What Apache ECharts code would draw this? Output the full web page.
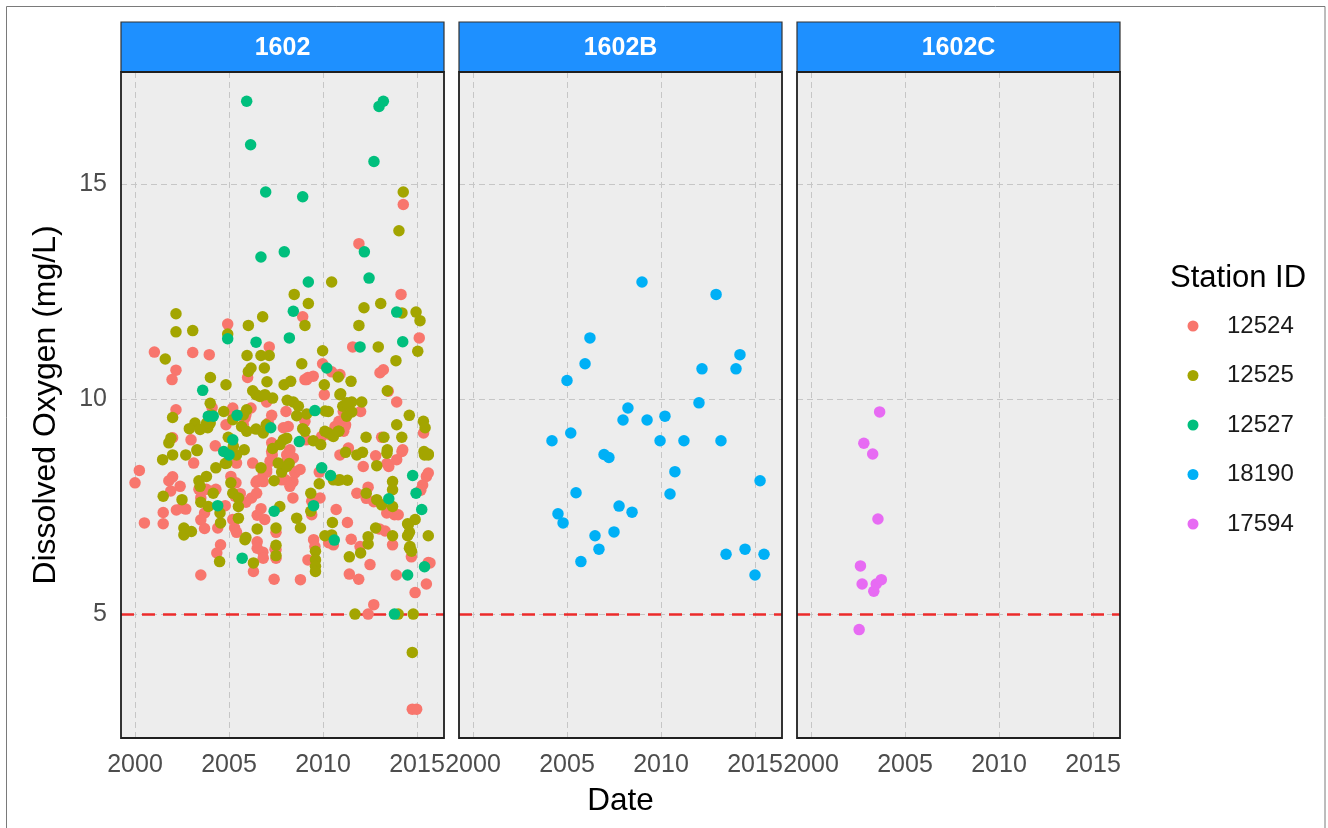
<!DOCTYPE html>
<html>
<head>
<meta charset="utf-8">
<title>Dissolved Oxygen by Station</title>
<script src="https://cdn.jsdelivr.net/npm/echarts@6/dist/echarts.min.js"></script>
<style>
  html, body { margin: 0; padding: 0; background: #ffffff; }
  #chart { width: 1328px; height: 828px; }
</style>
</head>
<body>
<div id="chart"></div>
<script>
// Facet panels and stations
const panels = ['1602', '1602B', '1602C'];
const stations = ['12524', '12525', '12527', '18190', '17594'];
const stationColors = ['#F8766D', '#A3A500', '#00BF7D', '#00B0F6', '#E76BF3'];
const stationPanel = [0, 0, 0, 1, 2];

// Axis ticks and the 5 mg/L reference level
const xTicks = [2000, 2005, 2010, 2015];
const yTicks = [5, 10, 15];
const doThreshold = 5;

// Observations: [decimal year, dissolved oxygen mg/L]
const st12524 = [
  [2014.27,14.52],[2011.91,13.61],[2014.15,12.43],
  [2001.03,11.09],[2003.07,11.08],[2003.95,11.03],[2002.18,10.67],[2001.97,10.45],[2004.93,11.74],[2007.14,11.21],
  [2005.99,10.50],[2007.00,9.93],[2007.27,9.62],[2002.18,9.75],[2004.10,9.80],[2005.20,9.79],[2005.90,9.64],
  [2006.17,9.79],[2004.84,9.40],[2002.98,9.05],[2002.00,9.10],[2004.27,8.91],[2007.27,8.98],
  [2008.92,11.91],[2011.58,11.21],[2015.12,11.42],[2009.98,10.82],[2010.46,10.63],[2009.04,10.45],[2009.20,10.50],
  [2013.21,10.68],[2013.03,10.61],[2010.07,10.10],[2013.92,9.93],[2015.35,9.21],[2008.03,9.71],[2009.04,9.48],
  [2008.15,9.36],[2008.24,8.82],[2011.40,9.71],[2012.00,9.71],[2010.85,9.48],[2011.20,9.40],[2011.10,9.25],
  [2013.12,9.11],[2014.24,8.82],
  [2003.12,8.51],[2005.40,8.51],[2006.26,8.51],[2007.00,8.30],[2007.30,8.70],[2000.23,8.34],[2000.00,8.05],
  [2002.00,8.19],[2001.80,8.10],[2001.90,7.86],[2002.40,7.97],[2003.40,7.90],[2003.80,7.90],[2004.30,7.90],
  [2003.50,7.70],[2002.50,7.47],[2002.20,7.42],[2002.70,7.44],[2001.50,7.36],[2003.70,7.35],[2003.50,7.19],
  [2000.50,7.12],[2001.50,7.10],[2003.70,6.99],[2004.80,7.52],[2004.40,7.00],[2004.55,6.61],[2003.50,5.91],
  [2005.10,8.20],[2005.60,7.80],[2006.20,7.70],[2005.90,7.60],[2005.20,7.20],[2005.30,7.00],[2005.40,6.90],
  [2006.70,7.45],[2006.90,7.20],[2006.50,7.30],[2006.50,6.68],[2006.80,6.44],[2006.30,5.99],[2007.40,5.81],
  [2007.50,6.90],[2007.50,6.50],[2006.50,8.10],
  [2010.90,8.70],[2013.40,8.50],[2014.20,8.78],[2008.20,8.78],[2008.10,8.58],[2008.50,8.31],[2008.40,8.08],
  [2007.80,8.12],[2008.00,8.12],[2009.80,8.30],[2008.40,7.70],[2009.40,7.31],[2009.50,6.73],[2009.20,6.26],
  [2008.80,5.80],[2011.80,7.81],[2012.30,7.69],[2012.70,7.61],[2012.40,7.95],[2012.80,8.68],[2013.50,8.43],
  [2013.80,7.31],[2014.00,7.31],[2015.50,8.20],[2015.30,8.00],[2015.20,7.88],[2010.70,7.43],[2011.30,7.13],
  [2010.30,6.66],[2011.50,6.74],[2012.50,6.15],[2011.40,5.93],[2011.90,5.81],[2013.00,6.98],[2013.30,6.93],
  [2013.70,6.61],[2014.70,6.33],[2013.90,5.91],[2015.60,6.20],[2015.50,5.70],[2014.90,5.50],[2012.70,5.22],
  [2012.40,5.00],
  [2004.35,6.42],[2006.82,6.30],[2011.97,6.57],[2009.57,6.57],[2005.37,8.05],[2005.32,7.74],[2006.44,8.06],
  [2006.47,7.81],[2006.50,6.53],[2007.45,6.51],[2008.24,7.97],[2007.50,6.30],[2013.39,7.35],[2013.92,8.59],
  [2015.60,8.28],[2015.69,6.19],[2010.90,10.57],[2009.48,10.53],[2009.13,10.45],[2007.89,9.33],[2009.93,9.13],
  [2010.37,9.17],[2010.64,9.36],[2011.17,9.36],[2011.08,9.71],[2012.14,8.43],[2011.35,8.86],[2009.40,7.62],
  [2009.84,7.70],[2008.51,8.28],[2008.78,8.36],[2008.42,8.63],[2008.07,8.70],[2007.27,8.78],[2007.18,8.55],
  [2007.00,8.36],[2006.82,8.24],[2006.82,8.08],[2007.09,9.44],[2005.85,9.56],[2005.76,9.40],[2005.23,9.63],
  [2013.47,10.18],[2009.10,9.05],[2010.55,6.61],
  [2014.75,2.79],[2014.98,2.79]
];
const st12525 = [
  [2014.27,14.81],[2014.04,13.91],[2010.46,12.72],[2008.47,12.43],
  [2002.18,11.98],[2002.18,11.56],[2003.07,11.59],[2001.61,10.93],[2004.01,10.50],[2004.84,10.33],[2004.93,11.51],
  [2006.03,11.71],[2006.79,11.91],[2005.96,11.01],[2006.70,11.01],[2007.14,11.01],[2006.17,10.72],[2006.88,10.72],
  [2007.02,10.40],[2006.26,10.19],[2006.44,10.10],[2007.32,10.02],[2006.98,9.40],[2002.00,9.57],[2004.00,9.90],
  [2004.72,9.71],[2005.20,9.52],[2003.19,9.44],[2002.89,9.31],[2003.87,9.33],[2004.00,9.44],[2001.91,9.09],
  [2001.80,8.98],[2003.30,8.82],[2004.96,9.11],[2005.81,8.82],[2007.32,8.85],
  [2009.22,12.22],[2009.04,11.71],[2012.18,12.12],[2013.07,12.22],[2014.20,12.00],[2014.95,12.02],[2015.16,11.82],
  [2011.91,11.71],[2012.94,11.21],[2015.04,11.11],[2009.98,11.12],[2008.87,10.82],[2010.81,10.51],[2011.49,10.41],
  [2008.28,10.41],[2007.93,10.33],[2013.88,10.89],[2010.07,10.33],[2010.94,10.12],[2013.42,10.19],[2014.59,9.62],
  [2015.34,9.48],[2008.10,9.97],[2008.42,9.93],[2008.60,9.61],[2009.13,9.65],[2008.92,9.31],[2007.89,9.05],
  [2009.48,9.03],[2009.88,8.94],[2010.11,9.72],[2011.05,9.83],[2011.53,9.93],[2012.06,9.93],[2010.10,9.25],
  [2010.85,9.25],[2012.29,9.11],[2013.24,9.11],[2014.19,9.11],[2013.42,8.82],[2015.37,8.78],[2015.60,8.72],
  [2012.10,8.76],[2011.20,8.76],
  [2001.47,8.59],[2002.00,8.70],[2002.70,8.70],[2003.30,8.80],[2005.40,8.70],[2004.80,8.50],[2006.70,8.40],
  [2007.80,8.30],[2003.40,8.10],[2003.80,8.20],[2004.30,8.40],[2001.50,7.74],[2002.50,7.66],[2003.50,7.60],
  [2003.90,7.50],[2002.60,7.00],[2002.60,6.84],[2003.00,6.92],[2004.55,7.12],[2004.50,6.22],[2005.10,8.05],
  [2005.20,7.81],[2005.50,7.50],[2005.50,7.23],[2005.90,6.78],[2006.50,6.98],[2006.30,6.19],[2007.50,7.00],
  [2007.50,6.60],[2007.70,7.50],[2007.40,8.10],
  [2011.80,8.70],[2013.40,8.74],[2015.40,8.70],[2015.60,8.70],[2008.20,8.50],[2010.80,8.11],[2011.30,8.11],
  [2009.80,8.03],[2009.35,7.81],[2009.35,7.39],[2008.60,7.23],[2008.80,7.00],[2009.60,6.46],[2009.60,6.26],
  [2009.60,6.11],[2009.60,5.99],[2012.30,7.81],[2013.70,8.08],[2013.70,7.89],[2013.70,7.50],[2014.90,7.20],
  [2014.50,7.10],[2014.60,6.90],[2015.60,6.82],[2010.50,7.13],[2010.10,6.82],[2012.00,6.42],[2011.40,6.33],
  [2012.40,6.80],[2012.80,7.00],[2012.40,6.63],[2013.70,6.82],[2014.50,6.82],[2014.60,6.53],[2011.70,5.00],
  [2014.00,5.00],[2014.80,5.00],
  [2004.16,7.81],[2004.52,7.35],[2003.46,7.97],[2005.85,6.73],[2005.50,7.70],[2012.86,7.66],[2013.12,7.54],
  [2014.54,7.08],[2014.63,6.57],[2014.71,6.46],[2013.92,9.40],[2015.43,9.33],[2010.90,10.10],[2008.69,9.83],
  [2009.04,9.25],[2010.28,9.71],[2011.26,9.91],[2010.28,9.21],[2010.55,9.13],[2010.81,9.25],[2011.26,9.60],
  [2011.53,9.70],[2012.86,8.45],[2010.90,8.12],[2010.55,8.12],[2008.07,8.43],[2007.62,8.51],[2007.71,8.94],
  [2008.07,9.09],[2006.82,9.21],[2006.03,10.64],[2006.65,10.06],[2006.91,10.10],[2005.76,9.63],[2005.94,9.75],
  [2005.94,9.25],[2005.67,9.36],[2006.44,9.30],[2005.23,8.90],[2005.05,8.74],[2004.88,8.51],[2004.08,9.63],
  [2003.81,9.44],[2003.46,9.29],[2010.46,6.84],[2007.50,6.36],
  [2014.75,4.11]
];
const st12527 = [
  [2005.94,16.92],[2006.15,15.91],[2013.21,16.92],[2012.98,16.80],[2012.71,15.52],[2006.95,14.81],[2008.92,14.70],
  [2012.20,13.42],[2006.70,13.30],[2007.94,13.42],[2009.22,12.72],[2012.45,12.81],
  [2003.60,10.20],[2004.93,11.40],[2006.44,11.32],[2007.22,9.33],[2003.90,9.60],[2005.43,9.62],[2005.20,9.05],
  [2004.72,8.78],[2004.16,9.60],
  [2008.42,12.04],[2008.21,11.42],[2013.92,12.02],[2011.97,11.21],[2014.24,11.33],[2010.20,10.72],[2009.57,9.73],
  [2008.74,9.01],
  [2005.00,8.70],[2004.40,7.52],[2005.70,6.30],[2007.40,7.39],
  [2009.93,8.40],[2010.40,8.22],[2009.50,7.52],[2013.50,7.68],[2014.77,8.22],[2014.95,7.81],[2015.25,7.43],
  [2010.60,6.72],[2014.50,5.91],[2015.40,6.10],[2013.80,5.00]
];
const st18190 = [
  [2004.20,9.03],[2004.52,7.33],[2004.79,7.12],[2005.00,10.43],[2005.20,9.21],[2005.48,7.82],[2005.74,6.22],
  [2005.96,10.82],[2006.22,11.42],[2006.49,6.82],[2006.70,6.51],[2006.97,8.71],[2007.23,8.64],[2007.50,6.91],
  [2007.77,7.51],[2007.98,9.51],[2008.24,9.79],[2008.46,7.37],[2008.99,12.72],[2009.26,9.51],[2009.95,9.03],
  [2010.21,9.60],[2010.48,7.79],[2010.74,8.31],[2011.22,9.03],[2012.02,9.91],[2012.18,10.70],[2012.93,12.43],
  [2013.19,9.03],[2013.46,6.39],[2013.99,10.70],[2014.20,11.03],[2014.47,6.51],[2015.00,5.91],[2015.27,8.10],
  [2015.48,6.39]
];
const st17594 = [
  [2003.65,9.70],[2002.81,8.97],[2003.28,8.72],[2003.56,7.21],[2002.63,6.12],[2002.72,5.70],[2003.34,5.53],
  [2003.47,5.70],[2003.74,5.80],[2002.56,4.64]
];
const stationData = [st12524, st12525, st12527, st18190, st17594];

// Layout of the three facet panels
const FONT = 'Liberation Sans, Arial, Helvetica, sans-serif';
const panelLeft = [121, 459, 797];
const panelWidth = 323;
const plotTop = 72;
const plotHeight = 666;
const stripTop = 22;
const stripHeight = 50;
const xRange = [1999.255, 2016.436];
const yRange = [2.12, 17.6];

const grids = panels.map((p, i) => ({
  left: panelLeft[i], top: plotTop, width: panelWidth, height: plotHeight,
  show: true, backgroundColor: '#EDEDED', borderWidth: 0
}));

const gridLine = { show: true, lineStyle: { color: '#C6C6C6', width: 1, type: [6, 4] } };

const xAxes = panels.map((p, i) => ({
  type: 'value', gridIndex: i, min: xRange[0], max: xRange[1],
  axisLine: { show: false },
  axisTick: { show: false, customValues: xTicks },
  axisLabel: {
    customValues: xTicks, fontSize: 25, color: '#4D4D4D', margin: 14.5, fontFamily: FONT,
    formatter: v => String(Math.round(v))
  },
  splitLine: gridLine,
  name: i === 1 ? 'Date' : '',
  nameLocation: 'middle', nameGap: 47,
  nameTextStyle: { fontSize: 31.5, color: '#000', fontFamily: FONT }
}));

const yAxes = panels.map((p, i) => ({
  type: 'value', gridIndex: i, min: yRange[0], max: yRange[1],
  axisLine: { show: false },
  axisTick: { show: false, customValues: yTicks },
  axisLabel: {
    show: i === 0, customValues: yTicks, fontSize: 25, color: '#4D4D4D', margin: 14, fontFamily: FONT
  },
  splitLine: gridLine,
  name: i === 0 ? 'Dissolved Oxygen (mg/L)' : '',
  nameLocation: 'middle', nameGap: 59,
  nameTextStyle: { fontSize: 32, color: '#000', fontFamily: FONT }
}));

const thresholdMark = {
  silent: true, z: 1,
  symbol: ['none', 'none'],
  label: { show: false },
  lineStyle: { color: '#EC2B2B', width: 2.5, type: [13, 8], opacity: 1 },
  emphasis: { disabled: true },
  data: [{ yAxis: doThreshold }]
};

const firstInPanel = {};
const series = stations.map((name, k) => {
  const pi = stationPanel[k];
  const s = {
    type: 'scatter', name: name,
    xAxisIndex: pi, yAxisIndex: pi,
    data: stationData[k],
    symbol: 'circle', symbolSize: 11.5,
    itemStyle: { color: stationColors[k], opacity: 1 },
    emphasis: { disabled: true },
    z: 2
  };
  if (!(pi in firstInPanel)) {
    firstInPanel[pi] = true;
    s.markLine = thresholdMark;
  }
  return s;
});

// Facet strips and panel frames
const graphics = [];
panels.forEach((p, i) => {
  graphics.push({
    type: 'rect', z: 50,
    shape: { x: panelLeft[i], y: stripTop, width: panelWidth, height: stripHeight },
    style: { fill: '#1E90FF', stroke: '#333333', lineWidth: 1.2 }
  });
  graphics.push({
    type: 'text', z: 51,
    x: panelLeft[i] + panelWidth / 2, y: stripTop + stripHeight / 2 + 1,
    style: {
      text: p, fill: '#ffffff', font: 'bold 25px ' + FONT,
      textAlign: 'center', textVerticalAlign: 'middle'
    }
  });
  graphics.push({
    type: 'rect', z: 50,
    shape: { x: panelLeft[i], y: plotTop, width: panelWidth, height: plotHeight },
    style: { fill: 'none', stroke: '#1F1F1F', lineWidth: 1.8 }
  });
});
graphics.push({
  type: 'rect', z: 60,
  shape: { x: 6.5, y: 6.5, width: 1318.5, height: 840 },
  style: { fill: 'none', stroke: '#7A7A7A', lineWidth: 1 }
});

const chart = echarts.init(document.getElementById('chart'), null, { renderer: 'canvas' });
chart.setOption({
  animation: false,
  backgroundColor: '#ffffff',
  textStyle: { fontFamily: FONT },
  title: {
    text: 'Station ID', left: 1170, top: 263, padding: 0,
    textStyle: { fontSize: 31, fontWeight: 'normal', color: '#000', fontFamily: FONT }
  },
  legend: {
    data: stations, orient: 'vertical', left: 1187.5, top: 314, padding: 0,
    icon: 'circle', itemWidth: 58, itemHeight: 11, itemGap: 25.5,
    selectedMode: false,
    textStyle: { fontSize: 24, lineHeight: 24, color: '#1A1A1A', fontFamily: FONT }
  },
  grid: grids,
  xAxis: xAxes,
  yAxis: yAxes,
  series: series,
  graphic: { elements: graphics }
});
</script>
</body>
</html>
